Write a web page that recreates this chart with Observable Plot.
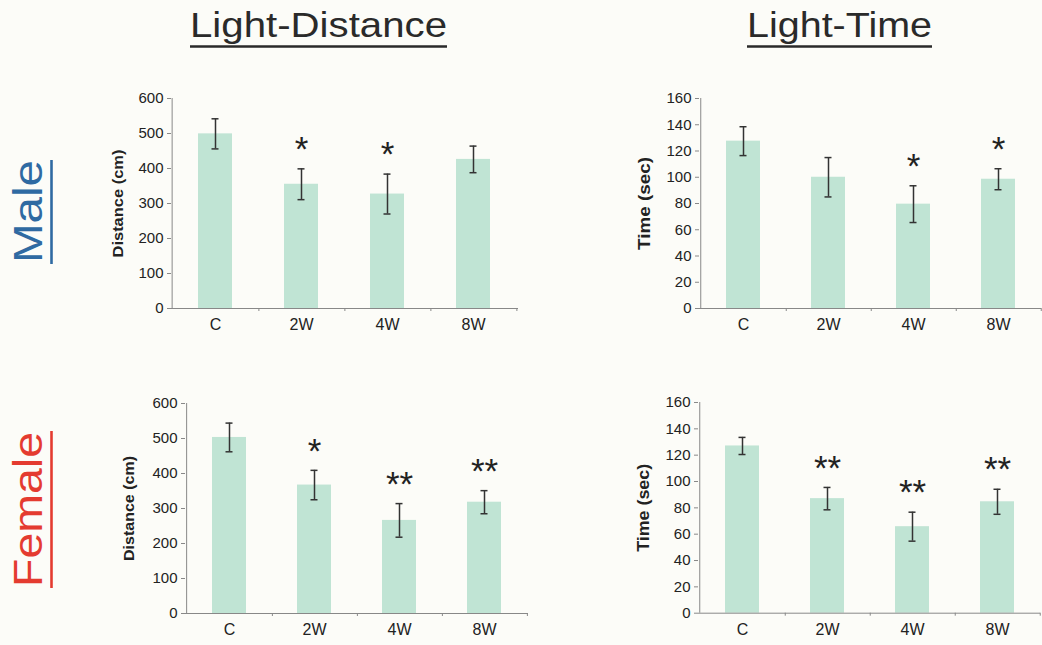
<!DOCTYPE html>
<html><head><meta charset="utf-8">
<script src="https://cdn.jsdelivr.net/npm/d3@7"></script>
<script src="https://cdn.jsdelivr.net/npm/@observablehq/plot@0.6"></script>
<style>
html,body{margin:0;padding:0;background:#fcfcf8;overflow:hidden}
#wrap{position:relative;width:1042px;height:645px;overflow:hidden;font-family:"Liberation Sans",Arial,sans-serif}
#wrap > svg{position:absolute}
</style></head><body><div id="wrap"></div>
<script>
// ---- data ----
const groups = ["C", "2W", "4W", "8W"];

const maleDistMean = [499, 355, 327, 426];
const maleDistErr  = [43, 44, 57, 38];
const maleDistSig  = ["", "*", "*", ""];

const maleTimeMean = [127.5, 100, 79.5, 98.5];
const maleTimeErr  = [11, 15, 14, 8];
const maleTimeSig  = ["", "", "*", "*"];

const femaleDistMean = [503, 367, 266, 318];
const femaleDistErr  = [41, 42, 48, 33];
const femaleDistSig  = ["", "*", "**", "**"];

const femaleTimeMean = [127, 87, 65.7, 84.6];
const femaleTimeErr  = [6.5, 8.5, 11, 9.5];
const femaleTimeSig  = ["", "**", "**", "**"];

const distTicks = [0, 100, 200, 300, 400, 500, 600];
const timeTicks = [0, 20, 40, 60, 80, 100, 120, 140, 160];

const colTitles = ["Light-Distance", "Light-Time"];
const rowTitles = ["Male", "Female"];
const distLabel = "Distance (cm)";
const timeLabel = "Time (sec)";

// ---- drawing ----
const FONT = '"Liberation Sans", Arial, sans-serif';
const wrap = document.getElementById("wrap");
const AXIS = "#888", INK = "#222", BAR = "#c0e4d4";

function panel({mean, err, sig, yLabel, ticks, axisX, axisEnd, y0, yTop, labelSize, labelLen, labelDx}) {
  const marginLeft = 80, marginTop = 25, marginBottom = 32, marginRight = 4;
  const left = axisX - marginLeft, top = yTop - marginTop;
  const width = axisEnd - left + marginRight;
  const height = (y0 - yTop) + marginTop + marginBottom;
  const step = (axisEnd - axisX) / groups.length;
  const data = groups.map((g, i) => ({g, m: mean[i], lo: mean[i] - err[i], hi: mean[i] + err[i], s: sig[i]}));
  const chart = Plot.plot({
    width, height, marginLeft, marginRight, marginTop, marginBottom,
    style: {background: "transparent", fontFamily: FONT, overflow: "visible"},
    x: {domain: groups, paddingInner: 0.6, paddingOuter: 0.3, label: null, axis: null},
    y: {domain: [ticks[0], ticks[ticks.length - 1]], label: null, axis: null},
    marks: [
      Plot.barY(data, {x: "g", y: "m", fill: BAR}),
      Plot.ruleY([0], {stroke: AXIS}),
      Plot.ruleX(["C"], {x: d => d, dx: -step / 2, stroke: AXIS}),
      Plot.axisY({ticks, tickSize: 4, tickPadding: 4, fontSize: 15, stroke: AXIS, fill: INK, label: null}),
      Plot.axisX({ticks: groups, tickSize: 3, tickFormat: () => "", dx: step / 2, stroke: AXIS, label: null}),
      Plot.axisX({ticks: groups, tickSize: 0, tickPadding: 10, fontSize: 16, fill: INK, label: null}),
      Plot.ruleX(data, {x: "g", y1: "lo", y2: "hi", stroke: "#333", strokeWidth: 1.5}),
      Plot.tickY(data, {x: "g", y: "lo", inset: 13.5, stroke: "#333", strokeWidth: 1.5}),
      Plot.tickY(data, {x: "g", y: "hi", inset: 13.5, stroke: "#333", strokeWidth: 1.5}),
      Plot.text(data.filter(d => d.s), {x: "g", y: "hi", text: "s", dy: -19, fontSize: 35, fill: INK, lineAnchor: "middle"}),
      Plot.text([yLabel], {frameAnchor: "left", dx: labelDx, rotate: -90, fontSize: labelSize, fontWeight: "bold", fill: INK})
    ]
  });
  chart.querySelectorAll("text").forEach(t => {
    if (t.textContent === yLabel) {
      t.setAttribute("textLength", labelLen);
      t.setAttribute("lengthAdjust", "spacingAndGlyphs");
      t.setAttribute("text-anchor", "start");
      t.setAttribute("x", -labelLen / 2);
    }
  });
  chart.style.left = left + "px";
  chart.style.top = top + "px";
  wrap.appendChild(chart);
}

panel({mean: maleDistMean, err: maleDistErr, sig: maleDistSig, yLabel: distLabel, ticks: distTicks,
  axisX: 171, axisEnd: 518, y0: 308.3, yTop: 98.3, labelSize: 14, labelLen: 108, labelDx: -53});
panel({mean: maleTimeMean, err: maleTimeErr, sig: maleTimeSig, yLabel: timeLabel, ticks: timeTicks,
  axisX: 699, axisEnd: 1041, y0: 308, yTop: 98, labelSize: 17, labelLen: 93, labelDx: -55});
panel({mean: femaleDistMean, err: femaleDistErr, sig: femaleDistSig, yLabel: distLabel, ticks: distTicks,
  axisX: 185, axisEnd: 528, y0: 613, yTop: 403, labelSize: 14.5, labelLen: 105, labelDx: -56});
panel({mean: femaleTimeMean, err: femaleTimeErr, sig: femaleTimeSig, yLabel: timeLabel, ticks: timeTicks,
  axisX: 698, axisEnd: 1040, y0: 612.7, yTop: 402, labelSize: 17, labelLen: 88, labelDx: -55});

// ---- titles / row labels ----
const NS = "http://www.w3.org/2000/svg";
const ov = document.createElementNS(NS, "svg");
ov.setAttribute("width", 1042); ov.setAttribute("height", 645);
ov.style.left = "0px"; ov.style.top = "0px";
function txt(str, attrs) {
  const t = document.createElementNS(NS, "text");
  for (const k in attrs) t.setAttribute(k, attrs[k]);
  t.setAttribute("font-family", FONT);
  t.setAttribute("lengthAdjust", "spacingAndGlyphs");
  t.textContent = str;
  ov.appendChild(t);
}
function line(x1, y1, x2, y2, stroke) {
  const l = document.createElementNS(NS, "line");
  Object.entries({x1, y1, x2, y2, stroke, "stroke-width": 2.6}).forEach(([k, v]) => l.setAttribute(k, v));
  ov.appendChild(l);
}
txt(colTitles[0], {x: 190, y: 36.7, "font-size": 35, textLength: 257, fill: "#2a2a2a"});
line(190, 46.5, 447, 46.5, "#2a2a2a");
txt(colTitles[1], {x: 747, y: 36.7, "font-size": 35, textLength: 185, fill: "#2a2a2a"});
line(747, 46.5, 932, 46.5, "#2a2a2a");
txt(rowTitles[0], {transform: "translate(41.5,263) rotate(-90)", "font-size": 40, textLength: 103, fill: "#2f6aa2"});
line(51.5, 160, 51.5, 264, "#2f6aa2");
txt(rowTitles[1], {transform: "translate(41.5,587) rotate(-90)", "font-size": 40, textLength: 155, fill: "#e43b30"});
line(51.5, 431, 51.5, 588, "#e43b30");
wrap.appendChild(ov);
</script></body></html>
